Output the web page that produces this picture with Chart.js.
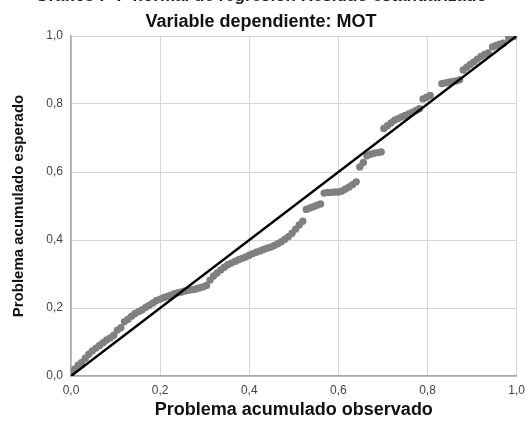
<!DOCTYPE html>
<html>
<head>
<meta charset="utf-8">
<script src="https://cdn.jsdelivr.net/npm/chart.js@4.4.1/dist/chart.umd.min.js"></script>
<style>
  html, body { margin: 0; padding: 0; background: #fff; }
  #frame { width: 532px; height: 423px; overflow: hidden; position: relative; }
  #box { position: absolute; left: 0; top: -14px; width: 532px; height: 437px; }
</style>
</head>
<body>
<div id="frame"><div id="box"><canvas id="pp"></canvas></div></div>
<script>
// observed cumulative probability (x) vs expected cumulative probability (y)
const obsX = [
  0.000, 0.008, 0.016, 0.024, 0.032, 0.040, 0.048, 0.056, 0.064, 0.072,
  0.080, 0.088, 0.096, 0.104, 0.112, 0.120, 0.128, 0.136, 0.144, 0.152,
  0.160, 0.168, 0.176, 0.184, 0.192, 0.200, 0.208, 0.216, 0.224, 0.232,
  0.240, 0.248, 0.256, 0.264, 0.272, 0.280, 0.288, 0.296, 0.304, 0.312,
  0.320, 0.328, 0.336, 0.344, 0.352, 0.360, 0.368, 0.376, 0.384, 0.392,
  0.400, 0.408, 0.416, 0.424, 0.432, 0.440, 0.448, 0.456, 0.464, 0.472,
  0.480, 0.488, 0.496, 0.504, 0.512, 0.520, 0.528, 0.536, 0.544, 0.552,
  0.560, 0.568, 0.576, 0.584, 0.592, 0.600, 0.608, 0.616, 0.624, 0.632,
  0.640, 0.648, 0.656, 0.664, 0.672, 0.680, 0.688, 0.696, 0.702, 0.710,
  0.718, 0.726, 0.734, 0.742, 0.750, 0.758, 0.766, 0.774, 0.782, 0.790,
  0.798, 0.806, 0.832, 0.840, 0.848, 0.856, 0.864, 0.872, 0.880, 0.888,
  0.896, 0.904, 0.912, 0.920, 0.928, 0.936, 0.946, 0.954, 0.962, 0.970,
  0.982, 0.990, 0.998
];
const expY = [
  0.005, 0.020, 0.032, 0.040, 0.052, 0.064, 0.074, 0.082, 0.090, 0.098,
  0.106, 0.112, 0.120, 0.135, 0.142, 0.160, 0.167, 0.176, 0.184, 0.190,
  0.195, 0.202, 0.208, 0.215, 0.222, 0.226, 0.230, 0.234, 0.238, 0.242,
  0.245, 0.247, 0.250, 0.252, 0.254, 0.256, 0.259, 0.262, 0.266, 0.282,
  0.294, 0.303, 0.312, 0.320, 0.327, 0.332, 0.337, 0.342, 0.346, 0.350,
  0.355, 0.360, 0.364, 0.368, 0.372, 0.376, 0.379, 0.384, 0.389, 0.395,
  0.402, 0.410, 0.420, 0.432, 0.444, 0.455, 0.490, 0.494, 0.498, 0.502,
  0.506, 0.538, 0.540, 0.540, 0.541, 0.541, 0.544, 0.550, 0.556, 0.563,
  0.571, 0.615, 0.628, 0.648, 0.652, 0.655, 0.657, 0.659, 0.728, 0.736,
  0.744, 0.752, 0.757, 0.762, 0.766, 0.771, 0.776, 0.781, 0.786, 0.815,
  0.820, 0.825, 0.860, 0.862, 0.864, 0.866, 0.868, 0.871, 0.900, 0.908,
  0.916, 0.924, 0.932, 0.940, 0.946, 0.950, 0.968, 0.972, 0.976, 0.979,
  0.995, 0.998, 1.000
];
// reference diagonal
const refX = [0, 1];
const refY = [0, 1];
const axisTicks = [0, 0.2, 0.4, 0.6, 0.8, 1.0];

const mainTitle = 'Gráfico P-P normal de regresión Residuo estandarizado';
const subTitle = 'Variable dependiente: MOT';
const xTitle = 'Problema acumulado observado';
const yTitle = 'Problema acumulado esperado';

const fmt = v => v.toFixed(1).replace('.', ',');

new Chart(document.getElementById('pp'), {
  type: 'scatter',
  data: {
    datasets: [
      {
        type: 'line',
        data: refX.map((x, i) => ({ x, y: refY[i] })),
        borderColor: '#000',
        borderWidth: 2.5,
        pointRadius: 0,
        order: 0
      },
      {
        data: obsX.map((x, i) => ({ x, y: expY[i] })),
        backgroundColor: '#808080',
        borderWidth: 0,
        pointRadius: 3.7,
        order: 1
      }
    ]
  },
  options: {
    responsive: true,
    maintainAspectRatio: false,
    animation: false,
    layout: { padding: { left: 0, right: 10, top: 0, bottom: 0 } },
    plugins: {
      legend: { display: false },
      tooltip: { enabled: false },
      title: {
        display: true,
        text: mainTitle,
        color: '#222',
        font: { family: 'Liberation Sans', size: 17, weight: 'bold' },
        padding: { top: 0, bottom: 5 }
      },
      subtitle: {
        display: true,
        text: subTitle,
        color: '#111',
        font: { family: 'Liberation Sans', size: 18, weight: 'bold' },
        padding: { top: 0, bottom: 3 }
      }
    },
    scales: {
      x: {
        type: 'linear',
        min: 0, max: 1,
        afterBuildTicks: s => { s.ticks = axisTicks.map(v => ({ value: v })); },
        afterFit: s => { s.height = 47; },
        grid: { color: '#d6d6d6', drawTicks: false },
        border: { color: '#a8a8a8', width: 1.5 },
        ticks: {
          padding: 7,
          color: '#444',
          font: { family: 'Liberation Sans', size: 12 },
          callback: v => fmt(v)
        },
        title: {
          display: true,
          text: xTitle,
          color: '#111',
          font: { family: 'Liberation Sans', size: 18, weight: 'bold' },
          padding: { top: 0, bottom: 2 }
        }
      },
      y: {
        type: 'linear',
        min: 0, max: 1,
        afterBuildTicks: s => { s.ticks = axisTicks.map(v => ({ value: v })); },
        afterFit: s => { s.width = 71; },
        grid: { color: '#d6d6d6', drawTicks: false },
        border: { color: '#a8a8a8', width: 1.5 },
        ticks: {
          padding: 8,
          color: '#444',
          font: { family: 'Liberation Sans', size: 12 },
          callback: v => fmt(v)
        },
        title: {
          display: true,
          text: yTitle,
          color: '#111',
          font: { family: 'Liberation Sans', size: 15, weight: 'bold' },
          padding: { top: 10, bottom: 0 }
        }
      }
    }
  }
});
</script>
</body>
</html>
